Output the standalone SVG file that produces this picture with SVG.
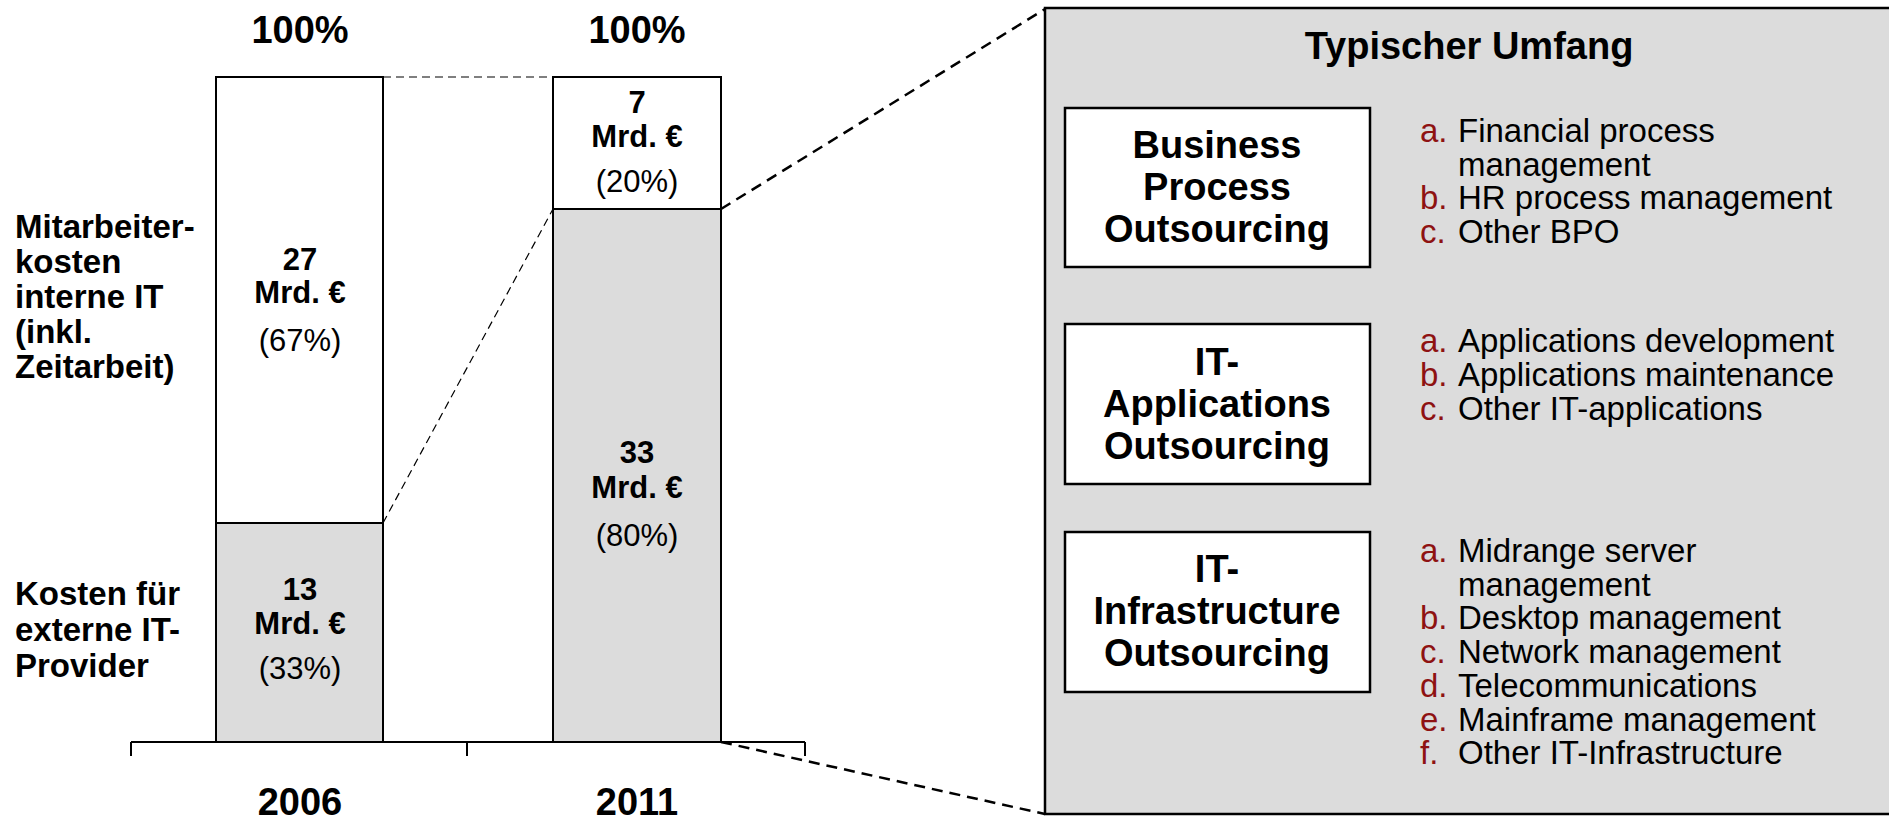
<svg xmlns="http://www.w3.org/2000/svg" width="1889" height="822" viewBox="0 0 1889 822">
<style>
text{font-family:"Liberation Sans",Arial,sans-serif;fill:#000}
.b{font-weight:bold}
.hd{font-size:38px;font-weight:bold;text-anchor:middle}
.lbl{font-size:33px;font-weight:bold}
.num{font-size:31px;font-weight:bold;text-anchor:middle}
.pct{font-size:31px;text-anchor:middle}
.box{fill:#fff;stroke:#000;stroke-width:2.5}
.bar{stroke:#000;stroke-width:2}
.bt{font-size:38px;font-weight:bold;text-anchor:middle}
.li{font-size:33px}
.k{fill:#8e1212}
.thin{stroke:#000;stroke-width:1.2;stroke-dasharray:8 5;fill:none}
.thick{stroke:#000;stroke-width:2.5;stroke-dasharray:11 7;fill:none}
</style>
<g id="panel">
<rect x="1045" y="8" width="900" height="806" fill="#dcdcdc" stroke="#000" stroke-width="2.5"/>
<text class="b" x="1469" y="59" font-size="38" text-anchor="middle">Typischer Umfang</text>
</g>
<g id="connectors">
<line class="thin" x1="383" y1="77" x2="553" y2="77"/>
<line class="thin" x1="383" y1="523" x2="553" y2="209"/>
<line class="thick" x1="721" y1="209" x2="1045" y2="9"/>
<line class="thick" x1="721" y1="742" x2="1045" y2="814"/>
</g>
<g id="axis">
<path d="M131,742 H805 M131,742 V756 M467,742 V756 M805,742 V756" stroke="#000" stroke-width="2" fill="none"/>
<text class="hd" x="300" y="815">2006</text>
<text class="hd" x="637" y="815">2011</text>
<text class="hd" x="300" y="43">100%</text>
<text class="hd" x="637" y="43">100%</text>
</g>
<g id="labels">
<text class="lbl" x="15"><tspan x="15" y="238">Mitarbeiter-</tspan><tspan x="15" y="273">kosten</tspan><tspan x="15" y="308">interne IT</tspan><tspan x="15" y="343">(inkl.</tspan><tspan x="15" y="378">Zeitarbeit)</tspan></text>
<text class="lbl" x="15"><tspan x="15" y="605">Kosten für</tspan><tspan x="15" y="641">externe IT-</tspan><tspan x="15" y="677">Provider</tspan></text>
</g>
<g id="bar2006-intern">
<rect class="bar" x="216" y="77" width="167" height="446" fill="#fff"/>
<text class="num" x="300" y="270">27</text>
<text class="num" x="300" y="303">Mrd. €</text>
<text class="pct" x="300" y="351">(67%)</text>
</g>
<g id="bar2006-extern">
<rect class="bar" x="216" y="523" width="167" height="219" fill="#dcdcdc"/>
<text class="num" x="300" y="600">13</text>
<text class="num" x="300" y="634">Mrd. €</text>
<text class="pct" x="300" y="679">(33%)</text>
</g>
<g id="bar2011-intern">
<rect class="bar" x="553" y="77" width="168" height="132" fill="#fff"/>
<text class="num" x="637" y="113">7</text>
<text class="num" x="637" y="147">Mrd. €</text>
<text class="pct" x="637" y="192">(20%)</text>
</g>
<g id="bar2011-extern">
<rect class="bar" x="553" y="209" width="168" height="533" fill="#dcdcdc"/>
<text class="num" x="637" y="463">33</text>
<text class="num" x="637" y="498">Mrd. €</text>
<text class="pct" x="637" y="546">(80%)</text>
</g>
<g id="bpo">
<rect class="box" x="1065" y="108" width="305" height="159"/>
<text class="bt"><tspan x="1217" y="158">Business</tspan><tspan x="1217" y="200">Process</tspan><tspan x="1217" y="242">Outsourcing</tspan></text>
<text class="li"><tspan class="k" x="1420" y="142">a.</tspan><tspan x="1458" y="142">Financial process</tspan><tspan x="1458" y="175.5">management</tspan><tspan class="k" x="1420" y="209">b.</tspan><tspan x="1458" y="209">HR process management</tspan><tspan class="k" x="1420" y="242.5">c.</tspan><tspan x="1458" y="242.5">Other BPO</tspan></text>
</g>
<g id="ito-apps">
<rect class="box" x="1065" y="324" width="305" height="160"/>
<text class="bt"><tspan x="1217" y="375">IT-</tspan><tspan x="1217" y="417">Applications</tspan><tspan x="1217" y="459">Outsourcing</tspan></text>
<text class="li"><tspan class="k" x="1420" y="352">a.</tspan><tspan x="1458" y="352">Applications development</tspan><tspan class="k" x="1420" y="386">b.</tspan><tspan x="1458" y="386">Applications maintenance</tspan><tspan class="k" x="1420" y="420">c.</tspan><tspan x="1458" y="420">Other IT-applications</tspan></text>
</g>
<g id="ito-infra">
<rect class="box" x="1065" y="532" width="305" height="160"/>
<text class="bt"><tspan x="1217" y="582">IT-</tspan><tspan x="1217" y="624">Infrastructure</tspan><tspan x="1217" y="666">Outsourcing</tspan></text>
<text class="li"><tspan class="k" x="1420" y="562">a.</tspan><tspan x="1458" y="562">Midrange server</tspan><tspan x="1458" y="595.5">management</tspan><tspan class="k" x="1420" y="629">b.</tspan><tspan x="1458" y="629">Desktop management</tspan><tspan class="k" x="1420" y="663">c.</tspan><tspan x="1458" y="663">Network management</tspan><tspan class="k" x="1420" y="697">d.</tspan><tspan x="1458" y="697">Telecommunications</tspan><tspan class="k" x="1420" y="731">e.</tspan><tspan x="1458" y="731">Mainframe management</tspan><tspan class="k" x="1420" y="764">f.</tspan><tspan x="1458" y="764">Other IT-Infrastructure</tspan></text>
</g>
</svg>
